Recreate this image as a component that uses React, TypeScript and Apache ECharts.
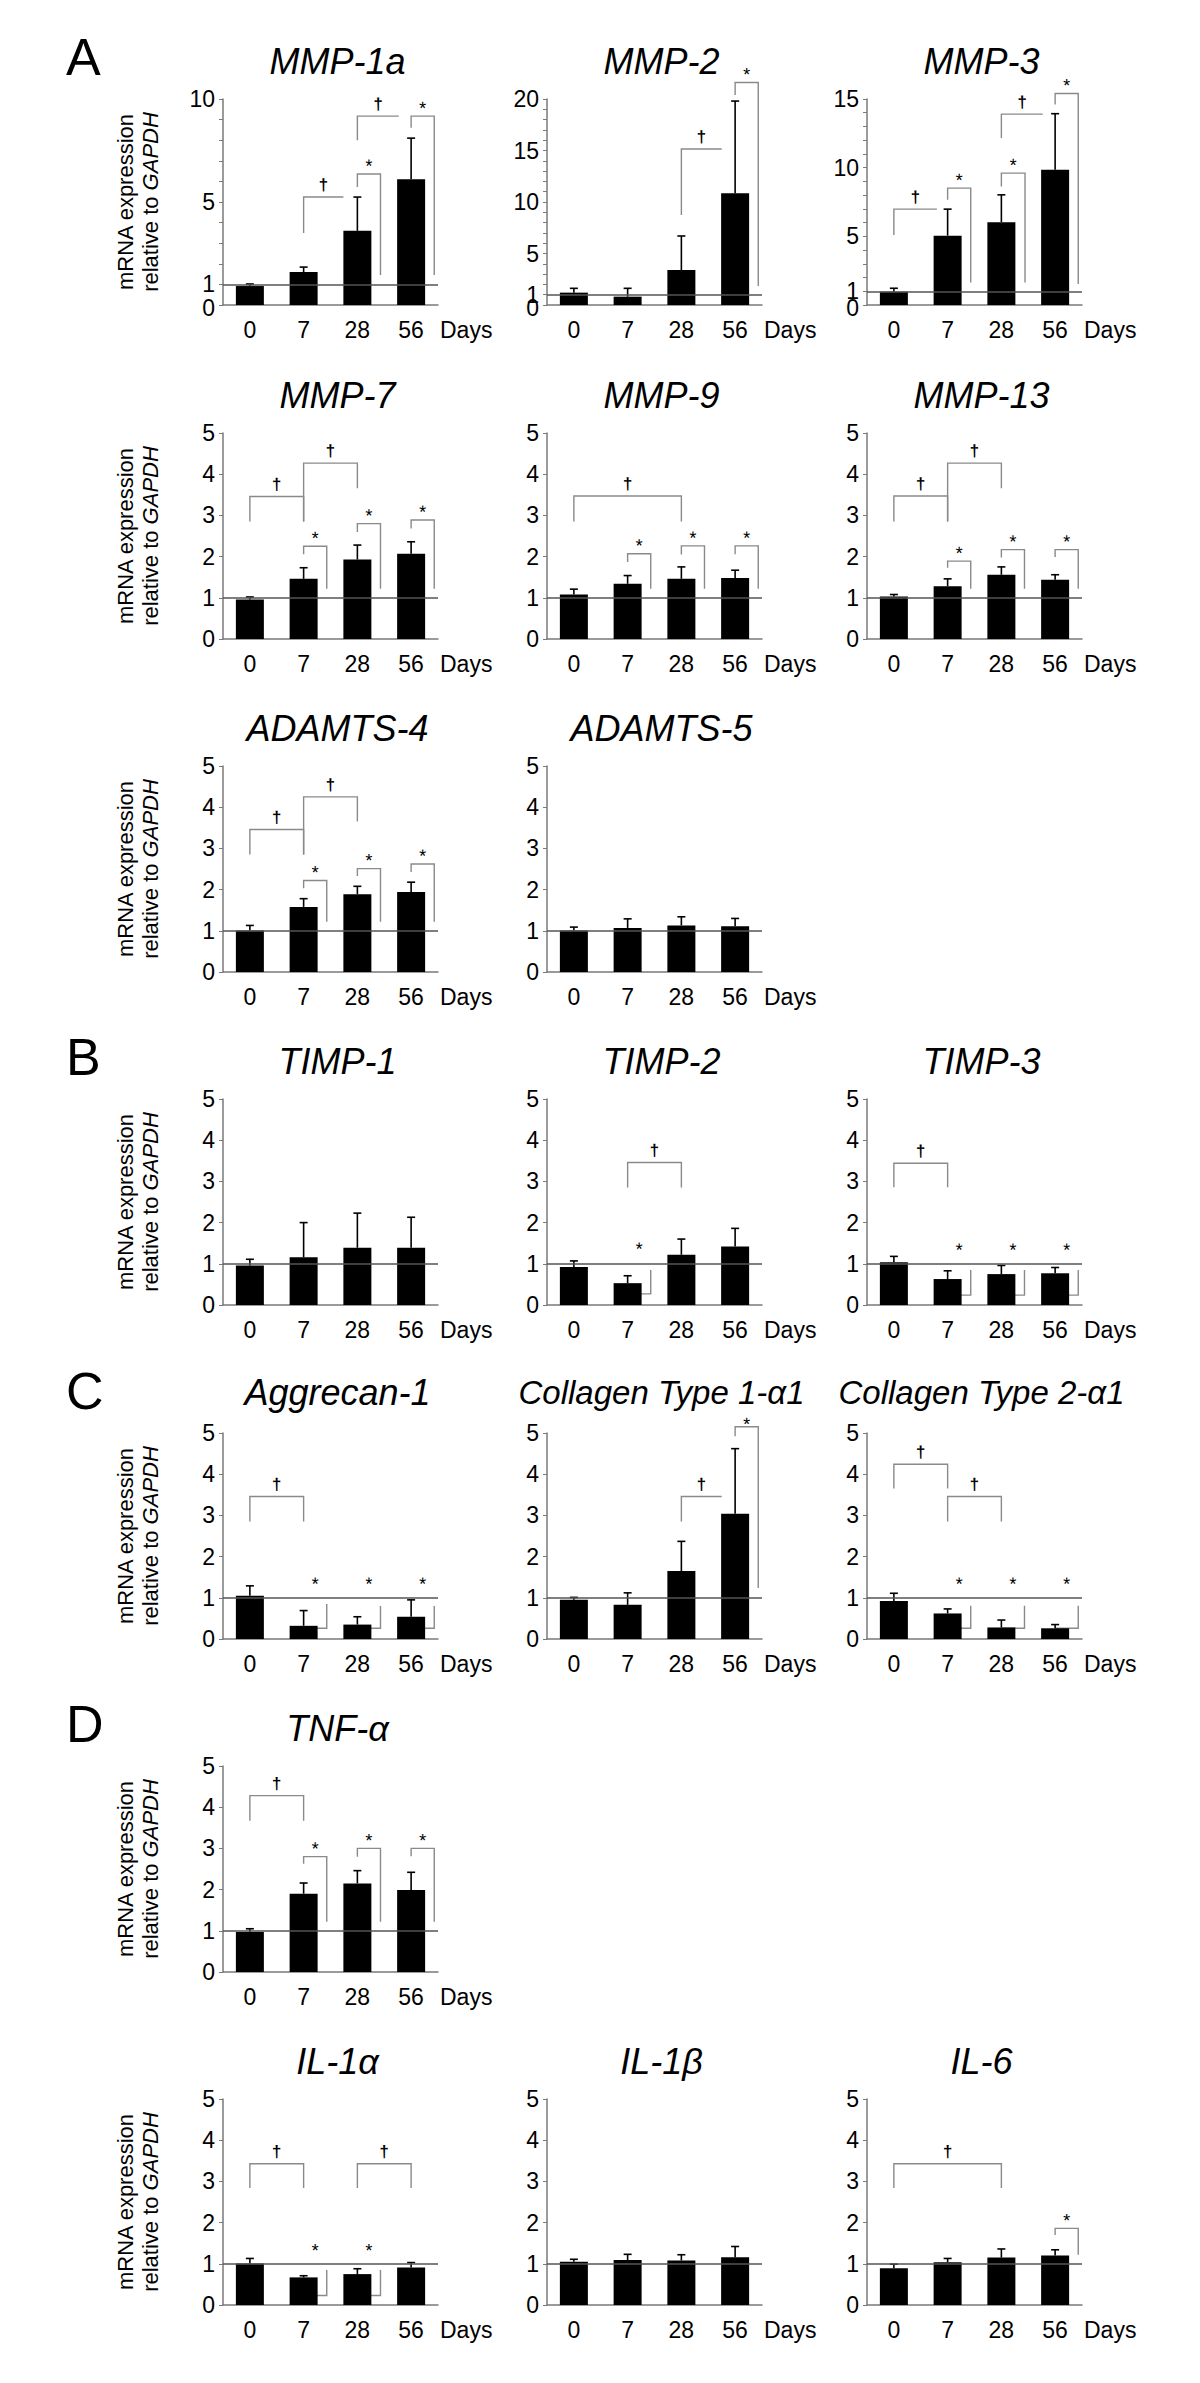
import React, { useEffect, useRef } from 'react';
import * as echarts from 'echarts';

const FONT = '"Liberation Sans", Arial, Helvetica, sans-serif';
const AXIS_COLOR = '#7a7a7a';
const REF_COLOR = '#555555';
const BRACKET_COLOR = '#8a8a8a';

const days = ['0', '7', '28', '56'];

// Bracket: [x1, x2, yHorizontal, yLeftLegEnd|null, yRightLegEnd|null, symbol, symbolY?]
type Br = [number, number, number, number | null, number | null, string, number?];

// ---- Values (mean, top of error bar) ----
const mmp1aMean = [0.92, 1.6, 3.6, 6.1];
const mmp1aErr = [1.02, 1.84, 5.24, 8.1];
const mmp1aBr: Br[] = [
  [1, 1.74, 5.24, 3.5, null, '†'],
  [2, 2.43, 6.36, 5.73, 1.46, '*'],
  [2, 2.77, 9.17, 8.0, null, '†'],
  [3, 3.43, 9.17, 8.6, 1.46, '*'],
];

const mmp2Mean = [1.2, 0.81, 3.4, 10.86];
const mmp2Err = [1.62, 1.62, 6.7, 19.8];
const mmp2Br: Br[] = [
  [2, 2.75, 15.14, 8.75, null, '†'],
  [3, 3.43, 21.6, 20.4, 1.85, '*'],
];

const mmp3Mean = [0.97, 5.05, 6.03, 9.85];
const mmp3Err = [1.22, 6.98, 8.02, 13.93];
const mmp3Br: Br[] = [
  [0, 0.8, 6.98, 5.1, null, '†'],
  [1, 1.43, 8.51, 7.66, 1.63, '*'],
  [2, 2.44, 9.6, 8.63, 1.63, '*'],
  [2, 2.77, 13.9, 12.16, null, '†'],
  [3, 3.43, 15.4, 14.6, 1.53, '*'],
];

const mmp7Mean = [0.96, 1.46, 1.93, 2.07];
const mmp7Err = [1.02, 1.73, 2.28, 2.36];
const mmp7Br: Br[] = [
  [0, 1, 3.46, 2.85, 2.85, '†'],
  [1, 2, 4.27, 2.85, 3.66, '†'],
  [1, 1.43, 2.25, 2.06, 1.22, '*'],
  [2, 2.43, 2.8, 2.6, 1.22, '*'],
  [3, 3.43, 2.89, 2.68, 1.22, '*'],
];

const mmp9Mean = [1.08, 1.34, 1.46, 1.48];
const mmp9Err = [1.21, 1.54, 1.75, 1.67];
const mmp9Br: Br[] = [
  [0, 2, 3.47, 2.85, 2.85, '†'],
  [1, 1.43, 2.07, 1.87, 1.22, '*'],
  [2, 2.43, 2.26, 2.05, 1.22, '*'],
  [3, 3.43, 2.26, 2.06, 1.22, '*'],
];

const mmp13Mean = [1.03, 1.28, 1.56, 1.44];
const mmp13Err = [1.08, 1.46, 1.75, 1.56];
const mmp13Br: Br[] = [
  [0, 1, 3.47, 2.85, 2.85, '†'],
  [1, 2, 4.27, 2.85, 3.66, '†'],
  [1, 1.43, 1.89, 1.73, 1.22, '*'],
  [2, 2.43, 2.17, 1.98, 1.22, '*'],
  [3, 3.43, 2.17, 1.99, 1.22, '*'],
];

const adamts4Mean = [1.01, 1.58, 1.89, 1.94];
const adamts4Err = [1.13, 1.78, 2.08, 2.18];
const adamts4Br: Br[] = [
  [0, 1, 3.46, 2.85, 2.85, '†'],
  [1, 2, 4.25, 2.85, 3.65, '†'],
  [1, 1.43, 2.22, 2.03, 1.22, '*'],
  [2, 2.43, 2.51, 2.33, 1.22, '*'],
  [3, 3.43, 2.62, 2.43, 1.22, '*'],
];

const adamts5Mean = [1.01, 1.07, 1.13, 1.11];
const adamts5Err = [1.09, 1.29, 1.34, 1.3];
const adamts5Br: Br[] = [];

const timp1Mean = [0.96, 1.16, 1.39, 1.39];
const timp1Err = [1.11, 2.0, 2.23, 2.13];
const timp1Br: Br[] = [];

const timp2Mean = [0.92, 0.53, 1.22, 1.42];
const timp2Err = [1.07, 0.71, 1.6, 1.86];
const timp2Br: Br[] = [
  [1, 2, 3.46, 2.85, 2.85, '†'],
  [1, 1.43, 0.27, 0.5, 0.85, '*', 1.46],
];

const timp3Mean = [1.04, 0.63, 0.75, 0.77];
const timp3Err = [1.18, 0.83, 0.96, 0.91];
const timp3Br: Br[] = [
  [0, 1, 3.44, 2.86, 2.86, '†'],
  [1, 1.43, 0.24, 0.5, 0.85, '*', 1.43],
  [2, 2.43, 0.24, 0.6, 0.85, '*', 1.43],
  [3, 3.43, 0.24, 0.6, 0.85, '*', 1.43],
];

const aggrecanMean = [1.05, 0.32, 0.35, 0.54];
const aggrecanErr = [1.29, 0.69, 0.54, 0.95];
const aggrecanBr: Br[] = [
  [0, 1, 3.46, 2.85, 2.85, '†'],
  [1, 1.43, 0.26, 0.3, 0.85, '*', 1.43],
  [2, 2.43, 0.26, 0.3, 0.8, '*', 1.43],
  [3, 3.43, 0.26, 0.5, 0.8, '*', 1.43],
];

const col1Mean = [0.95, 0.83, 1.65, 3.04];
const col1Err = [1.01, 1.12, 2.37, 4.62];
const col1Br: Br[] = [
  [2, 2.75, 3.46, 2.85, null, '†'],
  [3, 3.43, 5.15, 4.92, 1.24, '*', 5.31],
];

const col2Mean = [0.92, 0.62, 0.28, 0.26];
const col2Err = [1.11, 0.73, 0.46, 0.35];
const col2Br: Br[] = [
  [0, 1, 4.24, 3.65, 3.65, '†'],
  [1, 2, 3.46, 2.85, 2.85, '†'],
  [1, 1.43, 0.26, 0.5, 0.81, '*', 1.43],
  [2, 2.43, 0.26, 0.26, 0.81, '*', 1.43],
  [3, 3.43, 0.26, 0.26, 0.81, '*', 1.43],
];

const tnfMean = [0.97, 1.9, 2.15, 1.99];
const tnfErr = [1.05, 2.16, 2.46, 2.42];
const tnfBr: Br[] = [
  [0, 1, 4.28, 3.67, 3.67, '†'],
  [1, 1.43, 2.8, 2.63, 1.22, '*'],
  [2, 2.43, 3.0, 2.8, 1.22, '*'],
  [3, 3.43, 3.0, 2.81, 1.22, '*'],
];

const il1aMean = [1.01, 0.67, 0.75, 0.91];
const il1aErr = [1.13, 0.71, 0.88, 1.03];
const il1aBr: Br[] = [
  [0, 1, 3.43, 2.84, 2.84, '†'],
  [2, 3, 3.43, 2.84, 2.84, '†'],
  [1, 1.43, 0.23, 0.5, 0.85, '*', 1.42],
  [2, 2.43, 0.23, 0.5, 0.85, '*', 1.42],
];

const il1bMean = [1.05, 1.09, 1.08, 1.16];
const il1bErr = [1.11, 1.23, 1.22, 1.42];
const il1bBr: Br[] = [];

const il6Mean = [0.89, 1.04, 1.15, 1.2];
const il6Err = [0.99, 1.13, 1.36, 1.34];
const il6Br: Br[] = [
  [0, 2, 3.43, 2.84, 2.84, '†'],
  [3, 3.43, 1.86, 1.7, 1.22, '*'],
];

// Y-axis label sets
const labels10 = [0, 1, 5, 10];
const labels20 = [0, 1, 5, 10, 15, 20];
const labels15 = [0, 1, 5, 10, 15];
const labels5 = [0, 1, 2, 3, 4, 5];

interface Panel {
  title: string;
  row: number;
  col: number;
  yMax: number;
  yLabels: number[];
  mean: number[];
  err: number[];
  br: Br[];
  titleSize?: number;
}

const panels: Panel[] = [
  { title: 'MMP-1a', row: 0, col: 0, yMax: 10, yLabels: labels10, mean: mmp1aMean, err: mmp1aErr, br: mmp1aBr },
  { title: 'MMP-2', row: 0, col: 1, yMax: 20, yLabels: labels20, mean: mmp2Mean, err: mmp2Err, br: mmp2Br },
  { title: 'MMP-3', row: 0, col: 2, yMax: 15, yLabels: labels15, mean: mmp3Mean, err: mmp3Err, br: mmp3Br },
  { title: 'MMP-7', row: 1, col: 0, yMax: 5, yLabels: labels5, mean: mmp7Mean, err: mmp7Err, br: mmp7Br },
  { title: 'MMP-9', row: 1, col: 1, yMax: 5, yLabels: labels5, mean: mmp9Mean, err: mmp9Err, br: mmp9Br },
  { title: 'MMP-13', row: 1, col: 2, yMax: 5, yLabels: labels5, mean: mmp13Mean, err: mmp13Err, br: mmp13Br },
  { title: 'ADAMTS-4', row: 2, col: 0, yMax: 5, yLabels: labels5, mean: adamts4Mean, err: adamts4Err, br: adamts4Br },
  { title: 'ADAMTS-5', row: 2, col: 1, yMax: 5, yLabels: labels5, mean: adamts5Mean, err: adamts5Err, br: adamts5Br },
  { title: 'TIMP-1', row: 3, col: 0, yMax: 5, yLabels: labels5, mean: timp1Mean, err: timp1Err, br: timp1Br },
  { title: 'TIMP-2', row: 3, col: 1, yMax: 5, yLabels: labels5, mean: timp2Mean, err: timp2Err, br: timp2Br },
  { title: 'TIMP-3', row: 3, col: 2, yMax: 5, yLabels: labels5, mean: timp3Mean, err: timp3Err, br: timp3Br },
  { title: 'Aggrecan-1', row: 4, col: 0, yMax: 5, yLabels: labels5, mean: aggrecanMean, err: aggrecanErr, br: aggrecanBr },
  { title: 'Collagen Type 1-α1', row: 4, col: 1, yMax: 5, yLabels: labels5, mean: col1Mean, err: col1Err, br: col1Br, titleSize: 33 },
  { title: 'Collagen Type 2-α1', row: 4, col: 2, yMax: 5, yLabels: labels5, mean: col2Mean, err: col2Err, br: col2Br, titleSize: 33 },
  { title: 'TNF-α', row: 5, col: 0, yMax: 5, yLabels: labels5, mean: tnfMean, err: tnfErr, br: tnfBr },
  { title: 'IL-1α', row: 6, col: 0, yMax: 5, yLabels: labels5, mean: il1aMean, err: il1aErr, br: il1aBr },
  { title: 'IL-1β', row: 6, col: 1, yMax: 5, yLabels: labels5, mean: il1bMean, err: il1bErr, br: il1bBr },
  { title: 'IL-6', row: 6, col: 2, yMax: 5, yLabels: labels5, mean: il6Mean, err: il6Err, br: il6Br },
];

const sectionLetters = [
  { text: 'A', row: 0 },
  { text: 'B', row: 3 },
  { text: 'C', row: 4 },
  { text: 'D', row: 5 },
];

// ---- Layout ----
const ROW_TOPS = [99, 433, 766, 1099, 1433, 1766, 2099];
const COL_LEFTS = [223, 547, 867];
const GW = 215;
const GH = 206;

function errRender(_params: any, api: any) {
  const x = api.value(0);
  const m = api.value(1);
  const t = api.value(2);
  const a = api.coord([x, m]);
  const b = api.coord([x, t]);
  const st = { stroke: '#000', lineWidth: 1.6 };
  return {
    type: 'group',
    children: [
      { type: 'line', shape: { x1: a[0], y1: a[1], x2: b[0], y2: b[1] }, style: st },
      { type: 'line', shape: { x1: b[0] - 4, y1: b[1], x2: b[0] + 4, y2: b[1] }, style: st },
    ],
  };
}

function bracketRender(b: Br, api: any) {
  const [x1, x2, yH, yL, yR, sym, sy] = b;
  const pts: number[][] = [];
  if (yL != null) pts.push(api.coord([x1, yL]));
  pts.push(api.coord([x1, yH]));
  pts.push(api.coord([x2, yH]));
  if (yR != null) pts.push(api.coord([x2, yR]));
  const mid = api.coord([(x1 + x2) / 2, yH]);
  const isStar = sym === '*';
  // glyph centre position, then shift the anchor since '*' sits high in its em box
  let ty = sy != null ? api.coord([x1, sy])[1] : mid[1] - 12;
  if (isStar) ty += 4;
  return {
    type: 'group',
    children: [
      { type: 'polyline', shape: { points: pts }, style: { stroke: BRACKET_COLOR, lineWidth: 1.4, fill: 'none' } },
      {
        type: 'text',
        x: mid[0],
        y: ty,
        rotation: 0.01,
        style: {
          text: sym,
          fontSize: isStar ? 18 : 17,
          fontWeight: isStar ? 'normal' : 'bold',
          fontFamily: FONT,
          fill: '#000000',
          align: 'center',
          verticalAlign: 'middle',
        },
      },
    ],
  };
}

function buildOption() {
  const grid: any[] = [];
  const xAxis: any[] = [];
  const yAxis: any[] = [];
  const extraY: any[] = [];
  const series: any[] = [];
  const graphic: any[] = [];

  const yLabelStyle = { fontSize: 23, color: '#000', margin: 8, fontFamily: FONT };

  panels.forEach((p, i) => {
    const left = COL_LEFTS[p.col];
    const top = ROW_TOPS[p.row];
    const tight = p.yMax > 5; // "0" and "1" labels sit very close
    grid.push({ left, top, width: GW, height: GH, containLabel: false, outerBoundsMode: 'none' });
    xAxis.push({
      type: 'category',
      gridIndex: i,
      data: days,
      name: 'Days',
      nameLocation: 'end',
      nameGap: 2,
      nameMoveOverlap: false,
      nameTextStyle: {
        fontSize: 23,
        color: '#000',
        fontFamily: FONT,
        align: 'left',
        verticalAlign: 'top',
        padding: [13, 0, 0, 0],
      },
      axisLine: { onZero: false, lineStyle: { color: AXIS_COLOR, width: 1.5 } },
      axisTick: { show: false },
      axisLabel: { fontSize: 23, color: '#000', margin: 13, fontFamily: FONT, interval: 0 },
      splitLine: { show: false },
    });
    xAxis.push({ type: 'value', gridIndex: i, min: -0.5, max: 3.5, show: false, axisLine: { onZero: false } });
    const mainLabels = tight ? p.yLabels.filter((v) => v !== 1) : p.yLabels;
    const yA: any = {
      type: 'value',
      gridIndex: i,
      position: 'left',
      min: 0,
      max: p.yMax,
      interval: 1,
      axisLine: { show: true, onZero: false, lineStyle: { color: AXIS_COLOR, width: 1.5 } },
      axisTick: { show: true, length: 4, lineStyle: { color: AXIS_COLOR, width: 1 } },
      axisLabel: {
        ...yLabelStyle,
        showMinLabel: true,
        showMaxLabel: true,
        formatter: (v: number) => {
          if (mainLabels.indexOf(v) < 0) return '';
          if (tight && v === 0) return '{z|0}';
          return String(v);
        },
        rich: {
          z: { fontSize: 23, color: '#000', fontFamily: FONT, padding: [6, 0, 0, 0] },
        },
      },
      splitLine: { show: false },
    };
    if (p.col === 0) {
      yA.name = 'mRNA expression\nrelative to {i|GAPDH}';
      yA.nameLocation = 'middle';
      yA.nameRotate = 90;
      yA.nameGap = 60;
      yA.nameMoveOverlap = false;
      yA.nameTextStyle = {
        fontSize: 22,
        lineHeight: 25,
        color: '#000',
        fontFamily: FONT,
        rich: { i: { fontStyle: 'italic', fontSize: 22, lineHeight: 25, color: '#000', fontFamily: FONT } },
      };
    }
    yAxis.push(yA);
    if (tight) {
      // second, label-only axis carrying the "1" label
      extraY.push({
        type: 'value',
        gridIndex: i,
        position: 'left',
        offset: 0,
        min: 0,
        max: p.yMax,
        interval: 1,
        axisLine: { show: false, onZero: false },
        axisTick: { show: false },
        splitLine: { show: false },
        axisLabel: {
          ...yLabelStyle,
          padding: [0, 0, 6, 0],
          showMinLabel: false,
          showMaxLabel: false,
          formatter: (v: number) => (v === 1 ? '1' : ''),
        },
      });
    }

    series.push({
      type: 'bar',
      xAxisIndex: 2 * i,
      yAxisIndex: i,
      data: p.mean,
      barWidth: 28,
      itemStyle: { color: '#000' },
      z: 3,
      silent: true,
      markLine: {
        silent: true,
        symbol: 'none',
        label: { show: false },
        lineStyle: { color: REF_COLOR, width: 1.5, type: 'solid' },
        data: [{ yAxis: 1 }],
      },
    });
    series.push({
      type: 'custom',
      xAxisIndex: 2 * i + 1,
      yAxisIndex: i,
      z: 4,
      silent: true,
      itemStyle: { color: '#000' },
      encode: { x: 0, y: 1 },
      data: p.mean.map((m, k) => [k, m, p.err[k]]),
      renderItem: errRender,
    });
    if (p.br.length) {
      series.push({
        type: 'custom',
        xAxisIndex: 2 * i + 1,
        yAxisIndex: i,
        z: 2,
        silent: true,
        clip: false,
        itemStyle: { color: '#000000' },
        encode: { x: 0, y: 1 },
        data: p.br.map((b) => [b[0], b[2]]),
        renderItem: (params: any, api: any) => bracketRender(p.br[params.dataIndex], api),
      });
    }

    graphic.push({
      type: 'text',
      x: left + GW / 2 + 7,
      y: top - (p.row === 4 ? 41 : 38),
      style: {
        text: p.title,
        fontSize: p.titleSize || 36,
        fontStyle: 'italic',
        fontFamily: FONT,
        fill: '#000',
        align: 'center',
        verticalAlign: 'middle',
      },
    });
  });

  sectionLetters.forEach((s) => {
    graphic.push({
      type: 'text',
      x: 66,
      y: ROW_TOPS[s.row] - 42,
      style: { text: s.text, fontSize: 52, fontFamily: FONT, fill: '#000', align: 'left', verticalAlign: 'middle' },
    });
  });

  return {
    animation: false,
    backgroundColor: '#ffffff',
    color: ['#000000'],
    grid,
    xAxis,
    yAxis: yAxis.concat(extraY),
    series,
    graphic,
  };
}

export default function App() {
  const ref = useRef<HTMLDivElement>(null);
  useEffect(() => {
    document.body.style.margin = '0';
    if (!ref.current) return;
    const chart = echarts.init(ref.current, undefined, { renderer: 'svg' });
    chart.setOption(buildOption() as any);
    return () => chart.dispose();
  }, []);
  return <div ref={ref} style={{ width: 1200, height: 2383, background: '#fff' }} />;
}
